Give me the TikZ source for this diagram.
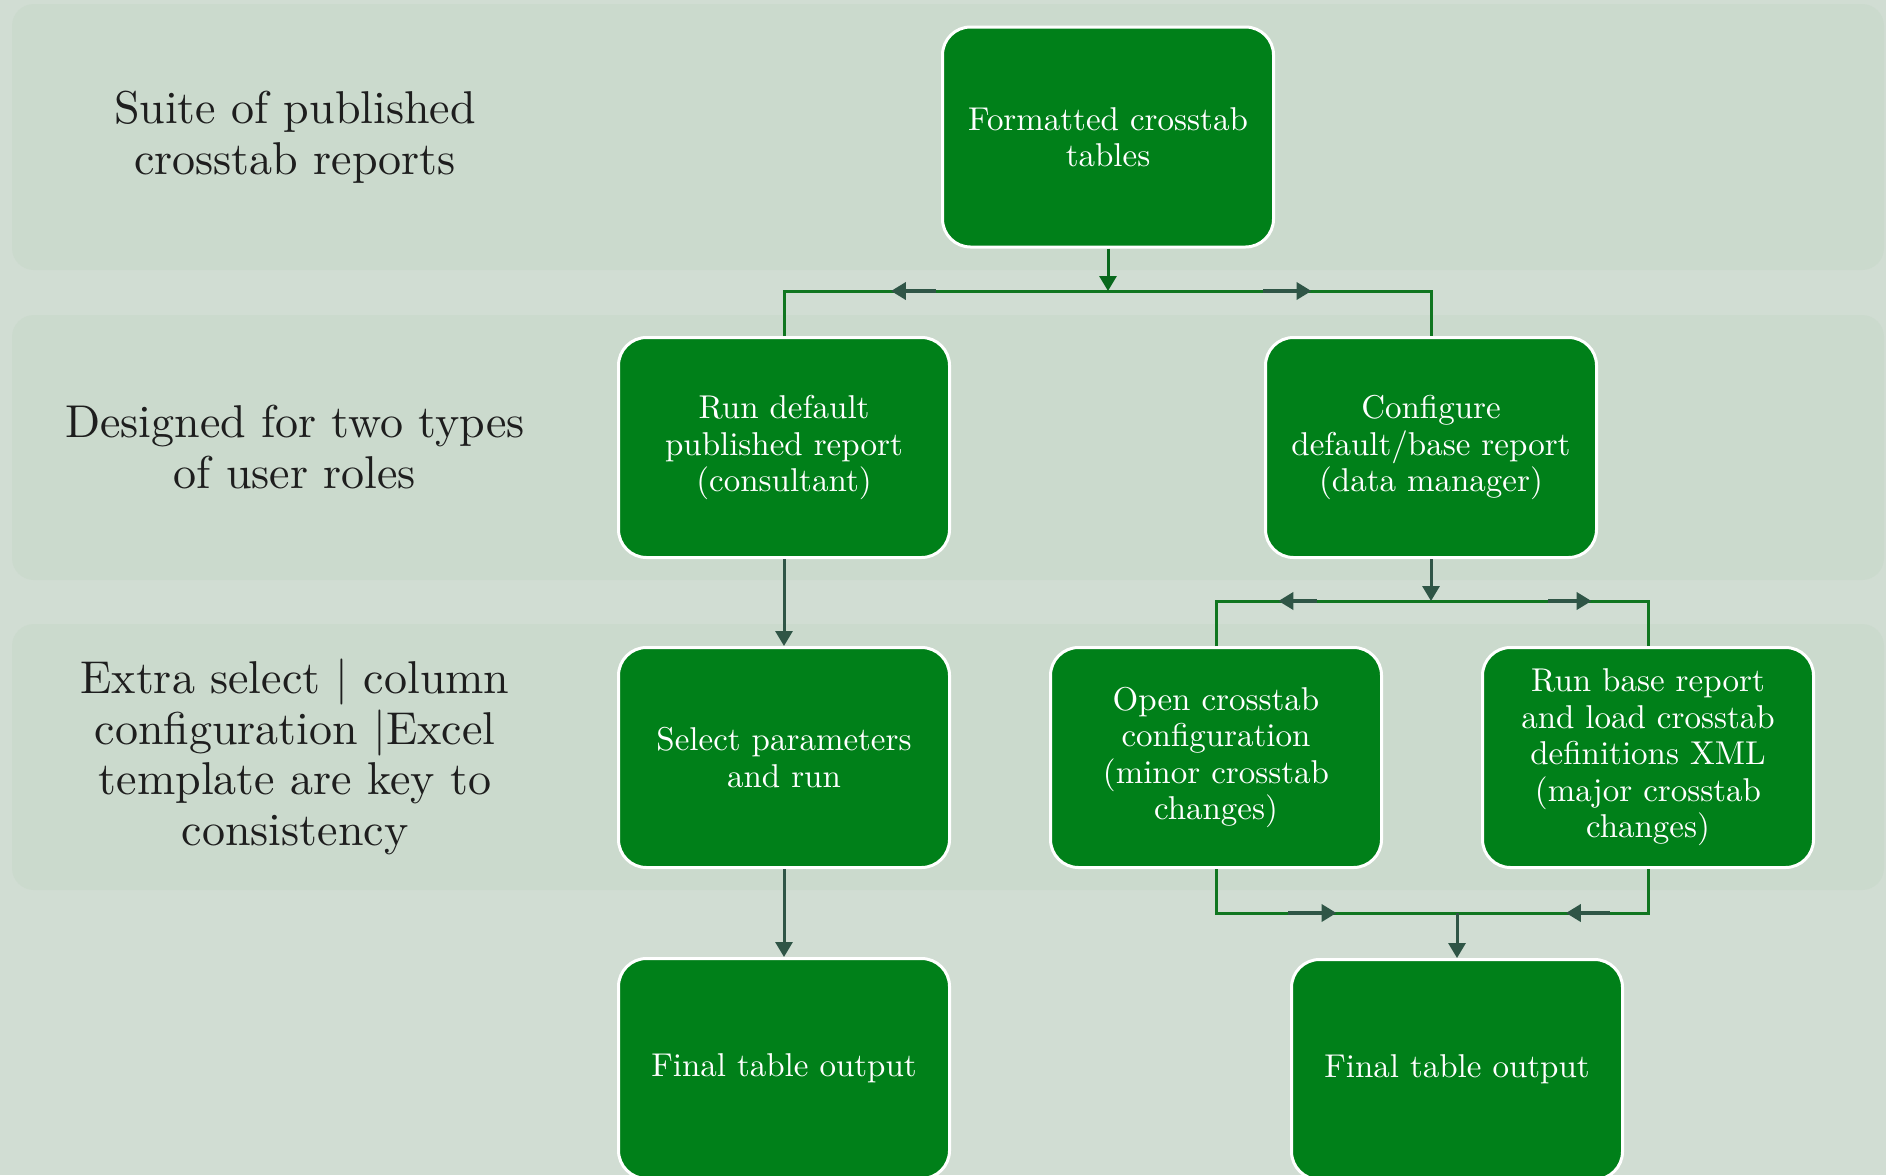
\documentclass[tikz,border=0pt]{standalone}
\usepackage{fontspec}
\setmainfont{lmroman10-regular}[Extension=.otf, BoldFont=lmroman10-bold]
\usetikzlibrary{arrows.meta,calc}
\definecolor{bgcol}{RGB}{209,221,211}
\definecolor{bandcol}{RGB}{203,218,205}
\definecolor{boxgreen}{RGB}{0,128,25}
\definecolor{linegreen}{RGB}{16,118,32}
\definecolor{slate}{RGB}{47,85,70}
\definecolor{tipgreen}{RGB}{8,104,28}
\definecolor{labeltext}{RGB}{30,30,30}
\tikzset{
  band/.style={fill=bandcol, draw=none, rounded corners=22pt},
  greenbox/.style={fill=boxgreen, draw=white, line width=3pt, rounded corners=28pt,
    minimum width=331pt, minimum height=220pt, inner sep=0pt, text=white, align=center,
    font=\fontsize{33}{36.5}\selectfont},
  rowlabel/.style={text=labeltext, align=center, font=\fontsize{46}{50.5}\selectfont},
  elbow/.style={draw=linegreen, line width=3pt},
  downarr/.style={draw=slate, line width=3pt, -{Triangle[length=15pt,width=17pt]}},
  midarr/.style={draw=slate, line width=4pt, -{Triangle[length=15pt,width=17pt]}},
}
\begin{document}
\begin{tikzpicture}[x=1pt,y=-1pt]
\useasboundingbox (0,0) rectangle (1886,1175);
\clip (0,0) rectangle (1886,1175);
\fill[bgcol] (0,0) rectangle (1886,1175);
% bands
\path[band] (12,4) rectangle (1884,270);
\path[band] (12,315) rectangle (1884,580);
\path[band] (12,624) rectangle (1884,890);
% row labels
\node[rowlabel] (lab1) at (295,137) {Suite of published\\crosstab reports};
\node[rowlabel] (lab2) at (295,447) {Designed for two types\\of user roles};
\node[rowlabel] (lab3) at (295,757) {Extra select | column\\configuration |Excel\\template are key to\\consistency};
% boxes
\node[greenbox] (top) at (1108,137) {Formatted crosstab\\tables};
\node[greenbox] (r2l) at (784,447.5) {Run default\\published report\\(consultant)};
\node[greenbox] (r2r) at (1431,447.5) {Configure\\default/base report\\(data manager)};
\node[greenbox] (r3l) at (784,757.5) {Select parameters\\and run};
\node[greenbox] (r3m) at (1216,757.5) {Open crosstab\\configuration\\(minor crosstab\\changes)};
\node[greenbox] (r3r) at (1648,757.5) {Run base report\\and load crosstab\\definitions XML\\(major crosstab\\changes)};
\node[greenbox] (f1) at (784,1068.5) {Final table output};
\node[greenbox] (f2) at (1457,1069.5) {Final table output};
% junctions
\coordinate (j1) at (1108,291);
\coordinate (j2) at (1431,601);
\coordinate (j3) at (1457,913);
% top split
\draw[elbow] (r2l.north) |- (j1) -| (r2r.north);
\draw[draw=tipgreen, line width=3pt, -{Triangle[length=15pt,width=17pt]}] (top.south) -- (j1);
\draw[midarr] ($(j1)!0.53!(r2l.north |- j1)$) -- ($(j1)!0.67!(r2l.north |- j1)$);
\draw[midarr] ($(j1)!0.48!(r2r.north |- j1)$) -- ($(j1)!0.63!(r2r.north |- j1)$);
% second split
\draw[elbow] (r3m.north) |- (j2) -| (r3r.north);
\draw[downarr] (r2r.south) -- (j2);
\draw[midarr] ($(j2)!0.53!(r3m.north |- j2)$) -- ($(j2)!0.71!(r3m.north |- j2)$);
\draw[midarr] ($(j2)!0.54!(r3r.north |- j2)$) -- ($(j2)!0.74!(r3r.north |- j2)$);
% left column
\draw[downarr] (r2l.south) -- (r3l.north);
\draw[downarr] (r3l.south) -- (f1.north);
% merge
\draw[elbow] (r3m.south) |- (j3) -| (r3r.south);
\draw[downarr] (j3) -- (f2.north);
\draw[midarr] ($(r3m.south |- j3)!0.30!(j3)$) -- ($(r3m.south |- j3)!0.50!(j3)$);
\draw[midarr] ($(r3r.south |- j3)!0.20!(j3)$) -- ($(r3r.south |- j3)!0.43!(j3)$);
\end{tikzpicture}
\end{document}
